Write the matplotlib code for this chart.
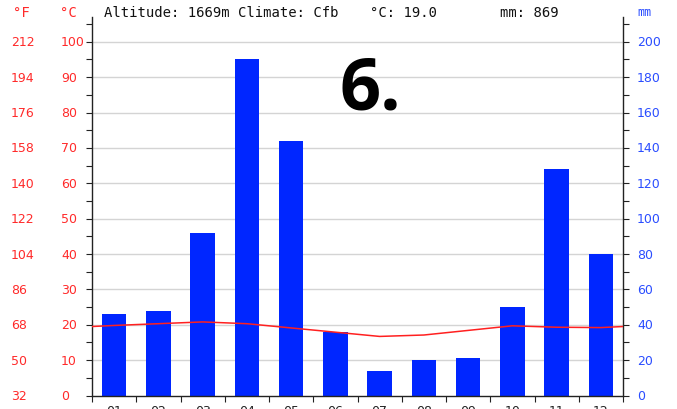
import matplotlib
matplotlib.use("Agg")
import matplotlib.pyplot as plt
from matplotlib.transforms import blended_transform_factory

# climate data
months = ["01", "02", "03", "04", "05", "06", "07", "08", "09", "10", "11", "12"]
precip_mm = [46, 48, 92, 190, 144, 36, 14, 20, 21, 50, 128, 80]
temp_c = [19.8, 20.3, 20.8, 20.3, 19.1, 17.9, 16.7, 17.1, 18.4, 19.7, 19.3, 19.2]
c_ticks = [0, 10, 20, 30, 40, 50, 60, 70, 80, 90, 100]
f_labels = ["32", "50", "68", "86", "104", "122", "140", "158", "176", "194", "212"]
mm_ticks = [0, 20, 40, 60, 80, 100, 120, 140, 160, 180, 200]

red = "#ff2a2a"
blue = "#2a4dff"
bar_blue = "#0026ff"

fig = plt.figure(figsize=(6.77, 4.10), dpi=100)
ax = fig.add_axes([92/677, 1-396.5/410, (623-92)/677, (396.5-18)/410])

x = list(range(1, 13))
# precipitation drawn on the °C scale (mm = 2 * °C)
ax.bar(x, [p/2 for p in precip_mm], width=0.55, color=bar_blue, zorder=2)

# temperature, wrapped Dec -> Jan at the edges
tx = [0] + x + [13]
ty = [temp_c[-1]] + temp_c + [temp_c[0]]
ax.plot(tx, ty, color="#ff2020", lw=1.1, zorder=3, clip_on=True)

ax.set_xlim(0.5, 12.5)
ax.set_ylim(0, 107)
for c in c_ticks[1:]:
    ax.axhline(c, color="#d4d4d4", lw=1, zorder=1)

ax.spines["top"].set_visible(False)
for s in ["left", "right", "bottom"]:
    ax.spines[s].set_color("#222222")
    ax.spines[s].set_linewidth(1)

ax.set_yticks(list(range(0, 106, 5)))
ax.set_yticklabels([])
ax.tick_params(axis="y", which="both", length=4, color="#222222",
               left=True, right=True, direction="out")
ax.set_xticks([i + 0.5 for i in range(0, 13)])
ax.set_xticklabels([])
ax.tick_params(axis="x", length=4, color="#222222")
ax.set_xticks(x, minor=True)
ax.set_xticklabels(months, minor=True, fontsize=9, color="#222222")
ax.tick_params(axis="x", which="minor", length=0, pad=6)

# tick labels for the three scales
tr = blended_transform_factory(fig.transFigure, ax.transData)
for c, f, m in zip(c_ticks, f_labels, mm_ticks):
    ax.text(11/677, c, f, transform=tr, color=red, fontsize=9, va="center", ha="left")
    ax.text(61/677, c, str(c), transform=tr, color=red, fontsize=9, va="center", ha="left")
    ax.text(637/677, m/2, str(m), transform=tr, color=blue, fontsize=9, va="center", ha="left")

# header line
hy = 1 - 13/410
fig.text(13/677, hy, "°F", color=red, fontsize=10, va="center", family="DejaVu Sans Mono")
fig.text(60/677, hy, "°C", color=red, fontsize=10, va="center", family="DejaVu Sans Mono")
fig.text(104/677, hy, "Altitude: 1669m Climate: Cfb", color="#111111", fontsize=10,
         va="center", family="DejaVu Sans Mono")
fig.text(370/677, hy, "°C: 19.0", color="#111111", fontsize=10, va="center",
         family="DejaVu Sans Mono")
fig.text(500/677, hy, "mm: 869", color="#111111", fontsize=10, va="center",
         family="DejaVu Sans Mono")
fig.text(637/677, hy, "mm", color=blue, fontsize=8.5, va="center", family="DejaVu Sans Mono")

fig.text(370/677, 1 - 90/410, "6.", color="black", fontsize=52, fontweight="bold",
         family="Open Sans", ha="center", va="center")

fig.savefig("out.png", dpi=100)
